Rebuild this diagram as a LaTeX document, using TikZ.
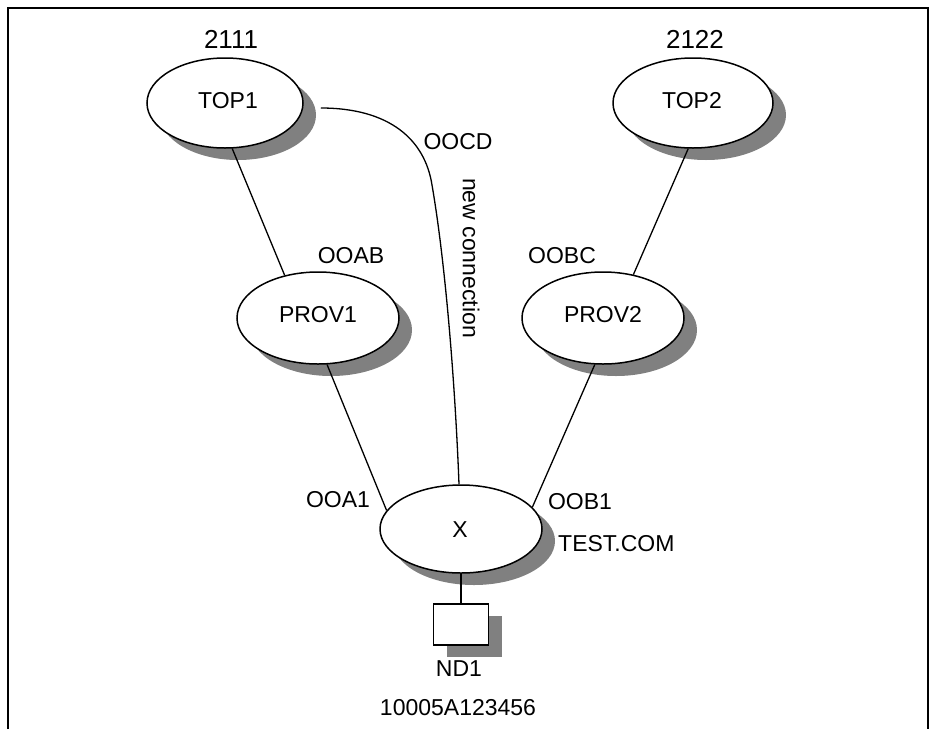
\documentclass[tikz,border=0pt]{standalone}
\usepackage{fontspec}
\setmainfont{Liberation Sans}
\usetikzlibrary{shapes.geometric,shadows}
\begin{document}
\begin{tikzpicture}[x=1pt,y=-1pt,
  every node/.style={font=\fontsize{23}{27}\selectfont, inner sep=0pt},
  big/.style={font=\fontsize{26}{30}\selectfont},
  shadowed/.style={drop shadow={shadow xshift=13pt, shadow yshift=-12pt, fill=black!50, opacity=1}},
  site/.style={ellipse, draw, line width=1.5pt, fill=white, shadowed},
  device/.style={rectangle, draw, line width=1.5pt, fill=white, shadowed, minimum width=55pt, minimum height=41pt},
  conn/.style={line width=1.3pt},
  frame/.style={line width=1.5pt}]
\useasboundingbox (0,0) rectangle (929,729);
% frame
\draw[frame] (8,729) -- (8,8) -- (928,8) -- (928,729);
% sites
\node[site, minimum width=156pt, minimum height=90pt] (top1) at (225,103) {};
\node[site, minimum width=160pt, minimum height=90pt] (top2) at (693,103) {};
\node[site, minimum width=162pt, minimum height=92pt] (prov1) at (318,318) {};
\node[site, minimum width=162pt, minimum height=92pt] (prov2) at (603,318) {};
\node[site, minimum width=162pt, minimum height=88pt] (x) at (461,529) {};
\node[device] (nd1) at (461,624.5) {};
% node texts
\node (ttop1) at (228,101) {TOP1};
\node (ttop2) at (692,101) {TOP2};
\node (tprov1) at (318,315) {PROV1};
\node (tprov2) at (603,315) {PROV2};
\node (tx) at (460,530) {X};
% connectors
\draw[conn] (top1.-81) -- (prov1.128);
\draw[conn] (top2.-96) -- (prov2.55);
\draw[conn] (prov1.-79) -- (x.166);
\draw[conn] (prov2.-100) -- (x.17);
\draw[conn] (x.south) -- (nd1.north);
\draw[conn] ([shift={(17pt,-5pt)}]top1.east) .. controls (390,108) and (425,140) .. (432,185)
  .. controls (445,260) and (455,380) .. ([xshift=-2pt]x.north);
% labels
\node[big] (l2111) at (231,39) {2111};
\node[big] (l2122) at (695,39) {2122};
\node (loocd) at (458,142) {OOCD};
\node[rotate=-90] (lnew) at (471,258) {new connection};
\node (looab) at (351,256) {OOAB};
\node (loobc) at (562,256) {OOBC};
\node (looa1) at (338,500) {OOA1};
\node (loob1) at (580,502) {OOB1};
\node[anchor=west] (ltest) at (558,544) {TEST.COM};
\node (lnd1) at (459,669) {ND1};
\node (laddr) at (458,708) {10005A123456};
\end{tikzpicture}
\end{document}
